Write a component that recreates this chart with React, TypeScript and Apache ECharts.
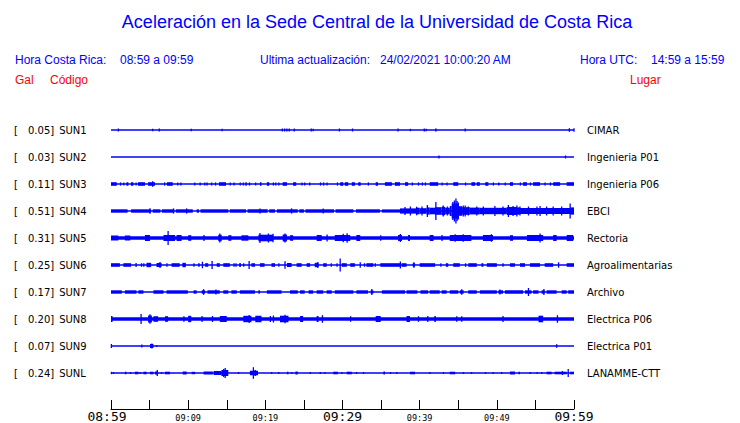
import React, { useEffect, useRef } from "react";
import * as echarts from "echarts";

type Ev = [number, number, number];

// Station metadata
const GAL = ["0.05", "0.03", "0.11", "0.51", "0.31", "0.25", "0.17", "0.20", "0.07", "0.24"];
const CODES = ["SUN1", "SUN2", "SUN3", "SUN4", "SUN5", "SUN6", "SUN7", "SUN8", "SUN9", "SUNL"];
const PLACES = ["CIMAR", "Ingenieria P01", "Ingenieria P06", "EBCI", "Rectoria", "Agroalimentarias", "Archivo", "Electrica P06", "Electrica P01", "LANAMME-CTT"];

// time axis (minutes after 08:59)
const TICK_MINUTES = [0, 10, 20, 30, 40, 50, 60];
const TICK_LABELS = ["08:59", "09:09", "09:19", "09:29", "09:39", "09:49", "09:59"];
const MAJOR_LABELS = ["08:59", "09:29", "09:59"];

// Trace envelopes: [start minute, end minute, half amplitude]
const SUN1: Ev[] = [[0.95,0.95,1.5],[5.4,5.4,1.2],[6.26,6.26,1.5],[10.4,10.4,1.2],[14.4,14.4,1.2],[22.2,22.2,1.5],[22.5,22.5,1.5],[22.8,22.8,1.5],[23.1,23.1,1.5],[23.75,23.75,1.5],[25.95,25.95,1.5],[26.2,26.2,1.3],[29.6,29.6,1.5],[31.3,31.3,1.5],[37.2,37.2,1.5],[38.8,38.8,1.2],[40.6,40.6,1.5],[40.85,40.85,1.2],[42.0,42.2,1.5],[45.9,45.9,1.5],[59.4,59.4,1.8],[60,60,1.8]];
const SUN2: Ev[] = [[42.5,42.5,1.5],[58.9,58.9,1.5]];
const SUN3: Ev[] = [[0,0.74,1.8],[1.17,1.3,1.6],[1.6,1.7,1.6],[2.0,2.25,1.8],[2.6,2.9,1.8],[3.2,3.3,1.6],[3.5,4.4,1.8],[4.8,5.7,1.8],[5.4,5.4,2.8],[6.9,7.0,1.6],[7.25,8.0,1.8],[8.6,8.7,1.6],[9.0,9.1,1.6],[10.8,10.9,1.6],[11.5,11.6,1.6],[12.1,12.2,1.6],[12.4,12.5,1.6],[13.0,13.1,1.6],[13.5,13.6,1.6],[14.0,14.9,1.8],[15.4,15.5,1.6],[15.9,16.0,1.6],[16.7,16.8,1.6],[17.1,17.2,1.6],[17.4,17.6,1.8],[17.9,18.0,1.6],[18.7,18.8,1.6],[19.3,19.5,1.8],[20.2,20.5,1.8],[21.0,21.1,1.6],[21.3,21.4,1.6],[21.7,21.8,1.6],[22.25,22.8,1.8],[23.6,24.0,1.8],[24.7,24.8,1.6],[25.05,25.15,1.6],[25.7,25.8,1.6],[27.1,27.2,1.6],[27.5,27.6,1.6],[27.95,28.05,1.6],[29.3,29.4,1.6],[29.7,30.1,1.8],[30.3,30.75,1.8],[31.2,31.6,1.8],[32.05,32.35,1.8],[33.3,33.4,1.6],[34.3,34.6,1.8],[35.5,36.4,1.8],[36.8,37.45,1.8],[38.1,38.5,1.8],[39.0,39.1,1.6],[39.8,39.9,1.6],[40.3,40.4,1.6],[40.7,40.8,1.6],[41.3,42.4,1.8],[42.85,42.95,1.6],[43.5,43.6,1.6],[44.35,45.0,1.8],[45.9,46.0,1.6],[46.7,47.2,1.8],[47.4,47.8,1.8],[48.5,48.9,1.8],[49.5,49.6,1.6],[50.2,50.3,1.6],[51.05,51.15,1.6],[51.7,52.1,1.8],[53.0,53.1,1.6],[53.4,53.9,1.8],[54.3,54.4,1.6],[54.7,55.6,1.8],[56.2,56.3,1.6],[56.9,57.0,1.6],[57.3,58.2,1.8],[59.05,60,1.8]];
const SUN4: Ev[] = [[0,2.15,1.7],[2.6,5.2,1.7],[5.4,6.4,1.7],[6.6,8.2,1.7],[8.4,10.6,1.7],[11.1,11.4,1.7],[11.6,15.2,1.7],[15.4,17.5,1.7],[17.7,20.3,1.7],[20.5,21.25,1.7],[21.5,24.2,1.7],[24.4,25.0,1.7],[25.2,28.9,1.7],[29.1,31.4,1.7],[31.75,34.85,1.7],[35.1,37.45,1.6],
  [5.05,5.05,2.7],[8.1,8.1,2.6],[9.8,9.8,2.6],[19.3,19.3,2.6],[23.4,23.4,2.6],[27.5,27.5,2.6],
  [37.45,39.6,2.6],[39.6,40.0,3.3],[40.0,40.9,2.8],[40.9,41.3,3.6],[41.3,42.0,3.3],[42.0,42.85,3.8],[42.85,43.3,4.2],[43.3,43.9,3.3],[43.9,44.15,5],[44.15,45.1,7.5],[45.1,45.5,4.8],[45.5,46.5,3.8],[46.5,47.8,3.4],[47.8,51.3,3.2],[51.3,52.6,4],[52.6,53.0,3.6],[53.0,59.5,3.1],[59.5,60,3.6],
  [38.1,38.1,4],[38.8,38.8,4.5],[39.6,39.6,4.3],[40.3,40.3,4.5],[41.0,41.0,6],[42.1,42.1,9],[43.05,43.05,5.5],[43.6,43.6,4.5],[44.3,44.3,9],[44.5,44.5,10.5],[44.7,44.7,12.5],[44.85,44.85,10],[45.0,45.0,8.5],[45.65,45.65,5.5],[45.9,45.9,5.5],[46.3,46.3,4.5],[47.4,47.4,4.5],[48.25,48.25,4.5],[49.75,49.75,5],[50.8,50.8,4.5],[51.5,51.5,6],[52.1,52.1,5],[52.6,52.6,5.5],[53.0,53.0,4.5],[54.1,54.1,4.5],[55.2,55.2,4.5],[55.6,55.6,5],[56.45,56.45,4.5],[57.3,57.3,4.5],[58.4,58.4,4.5],[59.5,59.5,7.5]];
const SUN5: Ev[] = [[0,60,1.7],[0,0.95,2.5],[1.8,2.5,2.5],[4.4,5.05,3],[6.8,8.3,3],[7.4,7.4,7],[8.5,9.15,3],[10.0,10.4,2.8],[12.0,12.1,3],[13.9,14.35,3.2],[14.1,14.1,4.5],[15.2,15.6,2.8],[16.9,17.8,2.7],[19.1,21.0,3.3],[19.3,19.3,5],[20.4,20.4,4.5],[21.0,21.0,4.3],[22.25,22.8,3.5],[22.55,22.55,4.5],[23.2,23.6,2.8],[26.65,27.3,3],[27.95,28.05,3.5],[29.0,31.0,3],[30.1,30.1,4.3],[30.6,30.6,4.8],[31.8,32.3,3],[34.9,35.0,2.8],[37.2,37.7,3],[37.5,37.5,4],[38.5,38.75,3],[41.3,41.8,3],[42.85,42.95,3],[43.9,46.7,3],[44.6,44.6,3.8],[45.65,45.65,3.8],[48.2,49.5,3],[49.3,49.3,3.8],[51.7,52.1,2.8],[53.9,56.0,3],[55.6,55.6,4.5],[57.3,57.75,3],[59.05,59.9,3]];
const SUN6: Ev[] = [[0,1.15,1.8],[1.6,2.6,1.8],[3.2,3.3,2],[3.9,4.0,1.8],[4.2,4.3,1.8],[4.6,5.2,2.2],[5.9,6.55,2],[6.35,6.35,3],[7.2,7.3,1.8],[7.85,8.9,1.8],[9.25,9.7,2.2],[10.7,10.8,1.8],[11.3,11.5,1.8],[11.85,11.85,3.3],[12.2,12.6,1.8],[13.1,13.1,4],[13.7,14.1,1.8],[14.55,15.4,1.8],[15.9,16.0,1.8],[16.15,16.25,1.8],[16.6,16.85,1.8],[17.15,17.25,1.8],[17.9,17.9,4],[18.2,18.65,1.8],[19.3,19.9,1.8],[20.8,21.25,1.8],[21.7,21.8,1.8],[22.55,22.55,3.8],[22.8,23.4,2],[24.05,24.7,1.8],[25.35,25.8,1.8],[26.4,26.9,2.2],[26.8,26.8,3],[27.5,27.95,1.8],[28.5,28.6,1.8],[29.25,29.35,1.8],[29.7,29.7,6.5],[29.9,30.55,1.8],[31.0,31.6,1.8],[32.3,32.3,2.7],[32.8,32.9,1.8],[33.1,34.0,1.8],[34.2,34.3,1.8],[34.9,37.45,1.8],[37.5,37.5,3.5],[37.65,38.3,1.8],[39.1,39.4,1.8],[39.25,39.25,2.8],[40.0,42.0,1.8],[42.7,42.8,1.8],[43.4,43.7,1.8],[44.35,45.2,1.8],[45.9,46.0,1.8],[46.3,47.4,1.8],[48.0,48.25,1.8],[48.7,50.0,1.8],[50.75,50.85,1.8],[51.7,52.35,1.8],[53.0,53.65,1.8],[54.3,55.6,1.8],[56.2,57.3,1.8],[58.0,58.0,2.7],[59.05,60,1.8]];
const SUN7: Ev[] = [[0,1.4,1.7],[1.8,3.3,1.7],[3.55,4.2,1.7],[5.5,6.8,1.7],[7.2,9.95,1.7],[10.7,11.1,1.7],[11.75,12.2,1.7],[12.0,12.0,2.8],[12.5,14.1,1.7],[13.6,13.6,2.6],[14.55,15.2,1.7],[15.6,16.3,1.7],[16.7,18.65,1.7],[19.1,19.3,1.7],[20.2,22.1,1.7],[23.2,24.2,1.7],[24.5,25.1,1.7],[25.6,26.2,1.7],[26.65,27.5,1.7],[27.95,28.6,1.7],[29.0,31.4,1.7],[31.8,33.3,1.7],[33.65,34.0,1.7],[33.8,33.8,3],[35.1,38.1,1.7],[38.3,39.7,1.7],[40.1,41.1,1.7],[41.3,42.6,1.7],[42.85,43.5,1.7],[43.9,45.0,1.7],[45.2,45.7,1.7],[45.45,45.45,2.8],[46.3,47.4,1.7],[47.8,50.0,1.7],[50.2,50.8,1.7],[50.4,50.4,2.6],[51.05,53.4,1.7],[53.65,54.5,1.7],[54.1,54.1,4],[54.7,55.4,1.7],[55.8,56.2,1.7],[56.1,56.1,3],[56.45,57.75,1.7],[58.4,59.05,1.7],[59.25,60,1.7]];
const SUN8: Ev[] = [[0,60,1.8],[0,0.2,3],[3.9,3.9,5],[4.8,5.3,3.5],[5.05,5.05,4.8],[5.5,6.1,2.8],[7.0,7.4,2.8],[9.4,9.5,2.8],[10.0,10.4,3.2],[11.75,11.85,3],[13.1,13.2,3],[14.1,15.0,3],[17.15,18.2,3.2],[17.9,17.9,4],[18.7,19.5,3.3],[20.6,20.7,3],[21.0,21.1,3.5],[21.9,23.0,3.3],[22.55,22.55,4.2],[24.5,24.9,3],[26.65,26.9,3],[27.4,27.4,3.8],[31.0,31.1,2.8],[34.3,34.95,3],[38.3,38.75,3],[39.8,39.9,2.8],[41.0,41.1,3],[41.9,42.1,3],[44.8,44.8,2.7],[45.45,45.45,2.7],[50.8,50.8,3],[55.4,56.0,3.3],[57.85,57.85,3.8]];
const SUN9: Ev[] = [[0,0.1,2],[3.95,4.05,1.5],[5.05,5.5,2],[5.3,5.3,2.5],[5.9,5.95,1],[57.75,57.75,1.8]];
const SUNL: Ev[] = [[0,0.1,1.2],[0.3,0.35,1],[1.8,2.0,1.3],[2.5,2.55,1],[3.1,3.55,1.3],[3.75,3.8,1],[4.2,4.6,1.3],[5.05,5.5,1.3],[5.7,6.1,1.5],[6.0,6.0,3],[6.5,6.6,1],[7.0,7.65,1.3],[9.3,9.8,1.5],[10.45,10.9,1.2],[12.0,13.2,1.5],[13.3,14.3,2],[14.3,15.2,3],[14.6,14.6,4],[14.8,14.8,5],[16.5,16.55,1],[18.0,19.05,2.2],[18.45,18.45,5.8],[18.6,18.8,3],[20.8,20.85,1],[21.7,21.75,1],[22.8,23.0,1.3],[23.4,23.45,1],[23.9,24.2,1.5],[25.8,25.85,1],[27.1,27.15,1],[27.7,27.75,1],[28.8,29.4,1.3],[29.9,29.95,1],[30.55,31.2,1.3],[31.8,31.85,1],[32.7,32.75,1],[35.3,35.5,1.5],[36.2,36.25,1],[37.0,37.05,1],[38.75,39.4,1.3],[41.3,41.35,1],[43.05,43.1,1],[43.9,44.6,1.3],[45.65,45.7,1],[46.7,46.75,1],[48.5,48.55,1],[49.5,49.55,1],[50.6,50.65,1],[51.7,52.35,1.5],[52.8,53.0,1.3],[54.3,54.35,1],[55.2,55.25,1],[55.8,55.85,1],[56.45,57.1,1.3],[57.5,59.05,1.3],[58.5,58.5,2],[59.25,59.25,4],[59.5,60,1.3]];

const TRACES: Ev[][] = [SUN1, SUN2, SUN3, SUN4, SUN5, SUN6, SUN7, SUN8, SUN9, SUNL];

const BLUE = "#0000ff";
const RED = "#ff0000";
const STEP = 27;
const T_MIN = 0;
const T_MAX = 60;

function rowOf(v: number): number {
  const i = Math.round(v / STEP);
  if (Math.abs(v - i * STEP) > 0.01 || i < 0 || i >= CODES.length) return -1;
  return i;
}

export default function App() {
  const ref = useRef<HTMLDivElement>(null);
  useEffect(() => {
    if (!ref.current) return;
    const chart = echarts.init(ref.current, undefined, { renderer: "svg" });

    const baseData = CODES.map((_, i) => [T_MIN, T_MAX, i * STEP]);
    const evData: number[][] = [];
    TRACES.forEach((tr, i) => tr.forEach((e) => evData.push([e[0], e[1], e[2], i * STEP])));

    const hdrFont = "Liberation Sans, Arial, sans-serif";
    const txt = (x: number, y: number, text: string, fill: string, size = 12, align = "left") => ({
      type: "text",
      x,
      y,
      silent: true,
      style: { text, fill, fontSize: size, fontFamily: hdrFont, textAlign: align, textVerticalAlign: "middle" },
    });

    const labelFont = { fontSize: 10, fontFamily: "DejaVu Sans", color: "#000" };

    const option: any = {
      animation: false,
      backgroundColor: "#fff",
      grid: { left: 111, right: 166, top: 103, height: 306, containLabel: false },
      xAxis: {
        type: "value",
        min: T_MIN,
        max: T_MAX,
        interval: 5,
        splitLine: { show: false },
        axisLine: { show: true, onZero: false, lineStyle: { color: "#000", width: 1 } },
        axisTick: { show: true, inside: true, length: 9, lineStyle: { color: "#000", width: 1 } },
        axisLabel: {
          margin: 1,
          formatter: (v: number) => {
            const k = TICK_MINUTES.indexOf(Math.round(v));
            if (k < 0 || Math.abs(v - Math.round(v)) > 0.01) return "";
            const lab = TICK_LABELS[k];
            if (k === 0) return `{first|${lab}}`;
            return MAJOR_LABELS.indexOf(lab) >= 0 ? `{big|${lab}}` : `{small|${lab}}`;
          },
          rich: {
            first: { fontSize: 13, fontFamily: "DejaVu Sans Mono", color: "#000", padding: [0, 8, 0, 0] },
            big: { fontSize: 13, fontFamily: "DejaVu Sans Mono", color: "#000" },
            small: { fontSize: 8.5, fontFamily: "DejaVu Sans Mono", color: "#000", padding: [3, 0, 0, 0] },
          },
        },
      },
      yAxis: [
        {
          type: "value",
          inverse: true,
          min: -STEP,
          max: 279,
          interval: STEP,
          axisLine: { show: false },
          axisTick: { show: false },
          splitLine: { show: false },
          axisLabel: {
            align: "left",
            margin: 97,
            formatter: (v: number) => {
              const i = rowOf(v);
              if (i < 0) return "";
              return `{b|[}{v|${GAL[i]}]}{s|${CODES[i]}}`;
            },
            rich: {
              b: { ...labelFont, width: 14 },
              v: { ...labelFont },
              s: { ...labelFont, padding: [0, 0, 0, 5] },
            },
          },
        },
        {
          type: "value",
          inverse: true,
          position: "right",
          min: -STEP,
          max: 279,
          interval: STEP,
          axisLine: { show: false },
          axisTick: { show: false },
          splitLine: { show: false },
          axisLabel: {
            align: "left",
            margin: 13,
            ...labelFont,
            formatter: (v: number) => {
              const i = rowOf(v);
              return i < 0 ? "" : PLACES[i];
            },
          },
        },
      ],
      graphic: [
        txt(377, 22, "Aceleración en la Sede Central de la Universidad de Costa Rica", BLUE, 18, "center"),
        txt(15, 60, "Hora Costa Rica:", BLUE),
        txt(120, 60, "08:59 a 09:59", BLUE),
        txt(260, 60, "Ultima actualización:", BLUE),
        txt(380, 60, "24/02/2021 10:00:20 AM", BLUE),
        txt(580, 60, "Hora UTC:", BLUE),
        txt(651, 60, "14:59 a 15:59", BLUE),
        txt(15, 80, "Gal", RED),
        txt(50, 80, "Código", RED),
        txt(630, 80, "Lugar", RED),
      ],
      series: [
        {
          type: "custom",
          name: "base",
          silent: true,
          encode: { x: [0, 1], y: 2 },
          data: baseData,
          renderItem: (_p: any, api: any) => {
            const a = api.coord([api.value(0), api.value(2)]);
            const b = api.coord([api.value(1), api.value(2)]);
            return {
              type: "line",
              shape: { x1: a[0], y1: a[1], x2: b[0], y2: b[1] },
              style: { stroke: BLUE, lineWidth: 1.3 },
            };
          },
        },
        {
          type: "custom",
          name: "trazas",
          silent: true,
          encode: { x: [0, 1], y: 3 },
          data: evData,
          renderItem: (_p: any, api: any) => {
            const y = api.value(3);
            const a = api.coord([api.value(0), y]);
            const b = api.coord([api.value(1), y]);
            const h = api.size([0, api.value(2)])[1];
            let x0 = a[0];
            let w = b[0] - a[0];
            if (w < 1.3) {
              x0 = (a[0] + b[0]) / 2 - 0.65;
              w = 1.3;
            }
            return {
              type: "rect",
              shape: { x: x0, y: a[1] - h, width: w, height: 2 * h },
              style: { fill: BLUE },
            };
          },
        },
      ],
    };
    chart.setOption(option);
    return () => chart.dispose();
  }, []);
  return (
    <div
      ref={ref}
      style={{ position: "fixed", left: 0, top: 0, width: 740, height: 423, background: "#fff" }}
    />
  );
}
